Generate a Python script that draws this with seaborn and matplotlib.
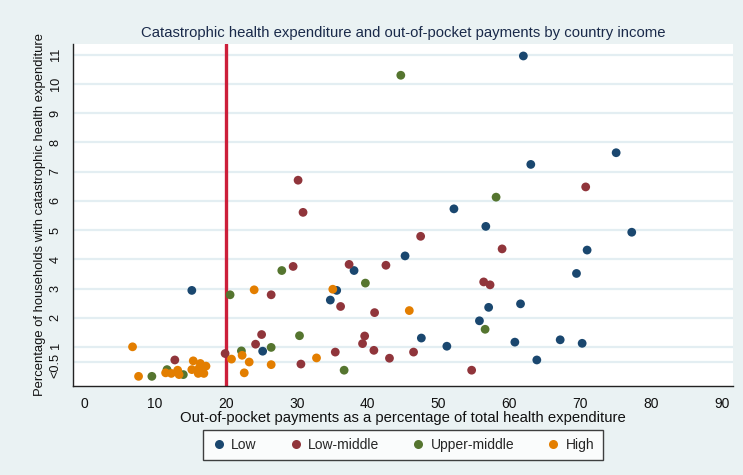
import numpy as np
import pandas as pd
import matplotlib
matplotlib.use("Agg")
import matplotlib.pyplot as plt
import matplotlib.transforms as mtransforms
from matplotlib.lines import Line2D
import seaborn as sns

# Country-level observations by income group
low_x = [62.0, 75.1, 63.05, 77.3, 52.2, 56.7, 71.0, 45.3, 38.1, 69.5, 15.2, 35.65,
         34.75, 61.6, 57.1, 55.8, 47.6, 51.2, 60.8, 63.9, 67.2, 70.3, 25.2]
low_y = [10.96, 7.65, 7.25, 4.93, 5.73, 5.13, 4.32, 4.12, 3.62, 3.52, 2.94, 2.94,
         2.61, 2.48, 2.36, 1.90, 1.31, 1.03, 1.17, 0.56, 1.25, 1.13, 0.86]

lowmid_x = [30.2, 30.9, 70.8, 47.5, 59.0, 29.5, 37.4, 42.6, 56.4, 57.3, 26.4, 36.2,
            41.0, 25.05, 39.6, 39.3, 24.2, 19.9, 12.8, 35.45, 40.9, 43.1, 46.5, 30.6, 54.7]
lowmid_y = [6.71, 5.61, 6.48, 4.79, 4.36, 3.76, 3.83, 3.80, 3.23, 3.13, 2.79, 2.39,
            2.18, 1.43, 1.38, 1.12, 1.10, 0.78, 0.56, 0.83, 0.89, 0.62, 0.83, 0.42, 0.21]

uppmid_x = [44.7, 58.15, 27.9, 39.7, 20.6, 56.6, 30.4, 26.4, 22.2, 36.7, 9.56, 11.7, 14.0]
uppmid_y = [10.3, 6.13, 3.62, 3.19, 2.79, 1.61, 1.39, 0.99, 0.87, 0.21, 0.0, 0.23, 0.06]

high_x = [24.0, 35.1, 45.9, 6.83, 7.68, 11.5, 12.3, 13.2, 13.4, 15.4, 16.4, 17.2,
          15.2, 16.2, 16.9, 16.1, 20.8, 22.3, 23.3, 22.6, 26.4, 32.8]
high_y = [2.96, 2.98, 2.25, 1.01, 0.0, 0.12, 0.10, 0.21, 0.06, 0.53, 0.44, 0.35,
          0.23, 0.27, 0.10, 0.10, 0.59, 0.72, 0.49, 0.12, 0.40, 0.63]

groups = ["Low", "Low-middle", "Upper-middle", "High"]
colors = ["#1a476f", "#90353b", "#55752f", "#e37e00"]

x_ticks = [0, 10, 20, 30, 40, 50, 60, 70, 80, 90]
y_ticks = [0.5, 1, 2, 3, 4, 5, 6, 7, 8, 9, 10, 11]
y_tick_labels = ["<0.5", "1", "2", "3", "4", "5", "6", "7", "8", "9", "10", "11"]
threshold = 20

df = pd.concat([
    pd.DataFrame({"oop": low_x, "che": low_y, "income": "Low"}),
    pd.DataFrame({"oop": lowmid_x, "che": lowmid_y, "income": "Low-middle"}),
    pd.DataFrame({"oop": uppmid_x, "che": uppmid_y, "income": "Upper-middle"}),
    pd.DataFrame({"oop": high_x, "che": high_y, "income": "High"}),
], ignore_index=True)

sns.set_theme(style="white")
plt.rcParams["font.family"] = ["Liberation Sans", "DejaVu Sans"]

bg = "#eaf2f3"
fig = plt.figure(figsize=(7.43, 4.75), dpi=100, facecolor=bg)
ax = fig.add_axes([0.098, 0.1874, 0.8886, 0.72])
ax.set_facecolor("white")

for v in y_ticks:
    ax.axhline(v, color="#e3eef2", lw=1.6, zorder=0)

ax.axvline(threshold, color="#cc1f3a", lw=2.4, zorder=1)

sns.scatterplot(data=df, x="oop", y="che", hue="income", hue_order=groups,
                palette=dict(zip(groups, colors)), s=40, linewidth=0,
                legend=False, ax=ax, zorder=3)

ax.set_xlim(-1.6, 91.6)
ax.set_ylim(-0.33, 11.37)
ax.set_xticks(x_ticks)
ax.set_yticks(y_ticks)
ax.set_yticklabels(y_tick_labels, rotation=90, va="center")

for side in ["top", "right"]:
    ax.spines[side].set_visible(False)
for side in ["left", "bottom"]:
    ax.spines[side].set_color("#222222")
    ax.spines[side].set_linewidth(1.0)

ax.tick_params(axis="both", direction="out", length=5, width=1, color="#333333",
               labelsize=10, labelcolor="#111111", pad=3)
ax.tick_params(axis="y", labelsize=9.2)

# nudge the two closely spaced bottom labels apart
lab_low = ax.get_yticklabels()[0]
lab_low.set_transform(lab_low.get_transform() +
                      mtransforms.ScaledTranslation(0, -2.5 / 72, fig.dpi_scale_trans))
lab_one = ax.get_yticklabels()[1]
lab_one.set_transform(lab_one.get_transform() +
                      mtransforms.ScaledTranslation(0, 1.0 / 72, fig.dpi_scale_trans))

ax.set_xlabel("Out-of-pocket payments as a percentage of total health expenditure",
              fontsize=10.7, color="#111111", labelpad=0)
ax.set_ylabel("Percentage of households with catastrophic health expenditure",
              fontsize=9.4, color="#111111", labelpad=3)
ax.set_title("Catastrophic health expenditure and out-of-pocket payments by country income",
             fontsize=10.7, color="#1a2a4a", pad=5)

handles = [Line2D([0], [0], marker="o", linestyle="", markersize=6.5,
                  markerfacecolor=c, markeredgewidth=0) for c in colors]
leg = fig.legend(handles, groups, loc="center", bbox_to_anchor=(403 / 743, 1 - 445 / 475),
                 ncol=4, frameon=True, fancybox=False, fontsize=10,
                 handletextpad=0.4, columnspacing=2.3, borderpad=0.6, handlelength=1.0)
leg.get_frame().set_edgecolor("#111111")
leg.get_frame().set_linewidth(1.0)
leg.get_frame().set_facecolor("white")

fig.savefig("out.png", dpi=100, facecolor=bg)
